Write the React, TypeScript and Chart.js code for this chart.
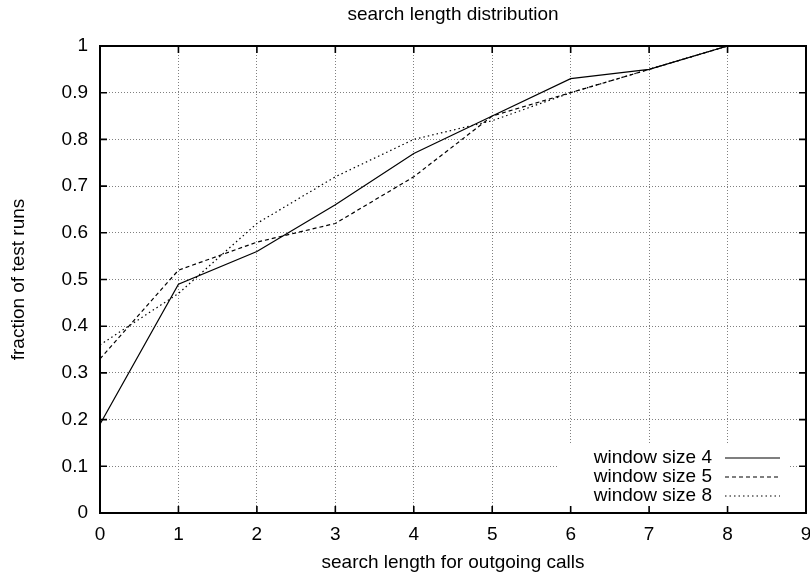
import { useEffect, useRef } from 'react';
import { Chart, registerables } from 'chart.js';

Chart.register(...registerables);

// ---- data ----
const searchLengths = [0, 1, 2, 3, 4, 5, 6, 7, 8];
const windowSize4 = [0.19, 0.49, 0.56, 0.66, 0.77, 0.85, 0.93, 0.95, 1.0];
const windowSize5 = [0.33, 0.52, 0.58, 0.62, 0.72, 0.85, 0.9, 0.95, 1.0];
const windowSize8 = [0.36, 0.47, 0.62, 0.72, 0.8, 0.84, 0.9, 0.95, 1.0];
const seriesLabels = ['window size 4', 'window size 5', 'window size 8'];
const seriesDashes: number[][] = [[], [4, 3], [1.5, 3]];
const chartTitle = 'search length distribution';
const xAxisTitle = 'search length for outgoing calls';
const yAxisTitle = 'fraction of test runs';
const xRange = [0, 9];
const yRange = [0, 1];

const FONT = "'Liberation Sans', Arial, Helvetica, sans-serif";
const FS = 19;

const gnuplotPlugin = {
  id: 'gnuplotFrame',
  beforeDatasetsDraw(chart: any) {
    const { ctx, chartArea: a } = chart;
    ctx.save();
    ctx.fillStyle = '#fff';
    ctx.fillRect(a.right - 248, a.bottom - 68, 232, 64);
    ctx.restore();
  },
  afterDatasetsDraw(chart: any) {
    const { ctx, chartArea: a, scales } = chart;
    ctx.save();
    // inward ticks
    ctx.strokeStyle = '#000';
    ctx.lineWidth = 1.6;
    ctx.setLineDash([]);
    const tl = 7;
    ctx.beginPath();
    scales.x.ticks.forEach((t: any) => {
      const px = scales.x.getPixelForValue(t.value);
      ctx.moveTo(px, a.bottom);
      ctx.lineTo(px, a.bottom - tl);
      ctx.moveTo(px, a.top);
      ctx.lineTo(px, a.top + tl);
    });
    scales.y.ticks.forEach((t: any) => {
      const py = scales.y.getPixelForValue(t.value);
      ctx.moveTo(a.left, py);
      ctx.lineTo(a.left + tl, py);
      ctx.moveTo(a.right, py);
      ctx.lineTo(a.right - tl, py);
    });
    ctx.stroke();
    // frame
    ctx.lineWidth = 2;
    ctx.strokeRect(a.left, a.top, a.right - a.left, a.bottom - a.top);
    // legend
    ctx.font = `${FS}px ${FONT}`;
    ctx.fillStyle = '#000';
    ctx.textAlign = 'right';
    ctx.textBaseline = 'middle';
    chart.data.datasets.forEach((ds: any, i: number) => {
      const y = a.bottom - 55 + i * 19;
      ctx.fillText(ds.label, a.right - 94, y);
      ctx.beginPath();
      ctx.lineWidth = 1.2;
      ctx.setLineDash(ds.borderDash || []);
      ctx.moveTo(a.right - 81, y);
      ctx.lineTo(a.right - 26, y);
      ctx.stroke();
    });
    ctx.restore();
  },
};

export default function App() {
  const ref = useRef<HTMLCanvasElement | null>(null);

  useEffect(() => {
    if (!ref.current) return;
    const series = [windowSize4, windowSize5, windowSize8];
    const chart = new Chart(ref.current, {
      type: 'line',
      data: {
        datasets: series.map((vals, i) => ({
          label: seriesLabels[i],
          data: searchLengths.map((x, j) => ({ x, y: vals[j] })),
          borderColor: '#000',
          borderWidth: 1.2,
          borderDash: seriesDashes[i],
          pointRadius: 0,
          tension: 0,
          fill: false,
        })),
      },
      options: {
        responsive: false,
        animation: false,
        devicePixelRatio: 1,
        layout: { padding: { left: 0, right: 4, top: 0, bottom: 0 } },
        font: { family: FONT, size: FS },
        color: '#000',
        plugins: {
          legend: { display: false },
          tooltip: { enabled: false },
          title: {
            display: true,
            fullSize: false,
            text: chartTitle,
            color: '#000',
            font: { family: FONT, size: FS, weight: 'normal' },
            padding: { top: 3, bottom: 20.2 },
          },
        },
        scales: {
          x: {
            type: 'linear',
            min: xRange[0],
            max: xRange[1],
            afterFit: (s: any) => {
              s.height = 63;
              s.paddingLeft = 0;
              s.paddingRight = 0;
            },
            ticks: {
              stepSize: 1,
              color: '#000',
              padding: 10,
              font: { family: FONT, size: FS },
            },
            grid: { color: '#808080', lineWidth: 1, drawTicks: false },
            border: { display: false, dash: [1, 2] },
            title: {
              display: true,
              text: xAxisTitle,
              color: '#000',
              font: { family: FONT, size: FS },
              padding: { top: 0, bottom: 2 },
            },
          },
          y: {
            type: 'linear',
            min: yRange[0],
            max: yRange[1],
            afterFit: (s: any) => {
              s.width = 100;
              s.paddingTop = 0;
              s.paddingBottom = 0;
            },
            ticks: {
              stepSize: 0.1,
              color: '#000',
              padding: 12,
              font: { family: FONT, size: FS },
              callback: (v: any) => String(Number(Number(v).toFixed(1))),
            },
            grid: { color: '#808080', lineWidth: 1, drawTicks: false },
            border: { display: false, dash: [1, 2] },
            title: {
              display: true,
              text: yAxisTitle,
              color: '#000',
              font: { family: FONT, size: FS },
              padding: { top: 7, bottom: 0 },
            },
          },
        },
      },
      plugins: [gnuplotPlugin],
    } as any);
    return () => chart.destroy();
  }, []);

  return (
    <div style={{ position: 'absolute', left: 0, top: 0, width: 810, height: 576, background: '#fff' }}>
      <canvas ref={ref} width={810} height={576} />
    </div>
  );
}
